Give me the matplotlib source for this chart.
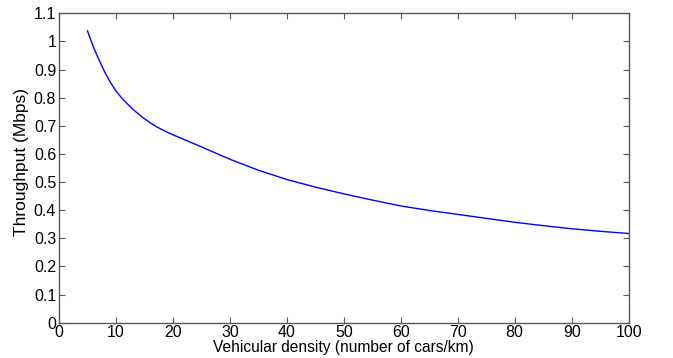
import matplotlib
matplotlib.use("Agg")
import matplotlib.pyplot as plt

# Vehicular density (cars/km) and throughput (Mbps)
density = [5, 6, 7, 8, 9, 10, 11, 12, 13, 14, 15, 16, 17, 18, 19, 20, 22,
           25, 30, 35, 40, 45, 50, 55, 60, 65, 70, 75, 80, 85, 90, 95, 100]
throughput = [1.037, 0.982, 0.935, 0.892, 0.855, 0.824, 0.799, 0.778,
              0.758, 0.741, 0.725, 0.711, 0.698, 0.687, 0.677, 0.668,
              0.651, 0.625, 0.581, 0.542, 0.509, 0.482, 0.458, 0.436,
              0.415, 0.399, 0.385, 0.371, 0.357, 0.345, 0.334, 0.325, 0.317]

x_ticks = list(range(0, 101, 10))
y_ticks = [i / 10 for i in range(0, 12)]
y_tick_labels = ["0", "0.1", "0.2", "0.3", "0.4", "0.5", "0.6", "0.7",
                 "0.8", "0.9", "1", "1.1"]

plt.rcParams['font.family'] = ['Liberation Sans', 'DejaVu Sans']

fig = plt.figure(figsize=(6.73, 3.58), dpi=100)
ax = fig.add_axes([0.0877, 0.0986, 0.8463, 0.8644])
ax.plot(density, throughput, color='#0000ff', linewidth=1.0)

ax.set_xlim(0, 100)
ax.set_ylim(0, 1.1)
ax.set_xticks(x_ticks)
ax.set_yticks(y_ticks)
ax.set_yticklabels(y_tick_labels)
ax.tick_params(direction='in', top=True, right=True, length=4, width=0.8,
               color='0.35', labelsize=11.5, pad=2)
for s in ax.spines.values():
    s.set_color('0.35')
    s.set_linewidth(1.0)

ax.set_xlabel('Vehicular density (number of cars/km)', fontsize=11.2, labelpad=0)
ax.set_ylabel('Throughput (Mbps)', fontsize=12.5)
ax.yaxis.set_label_coords(-0.053, 0.518)

fig.savefig('out.png', dpi=100)
